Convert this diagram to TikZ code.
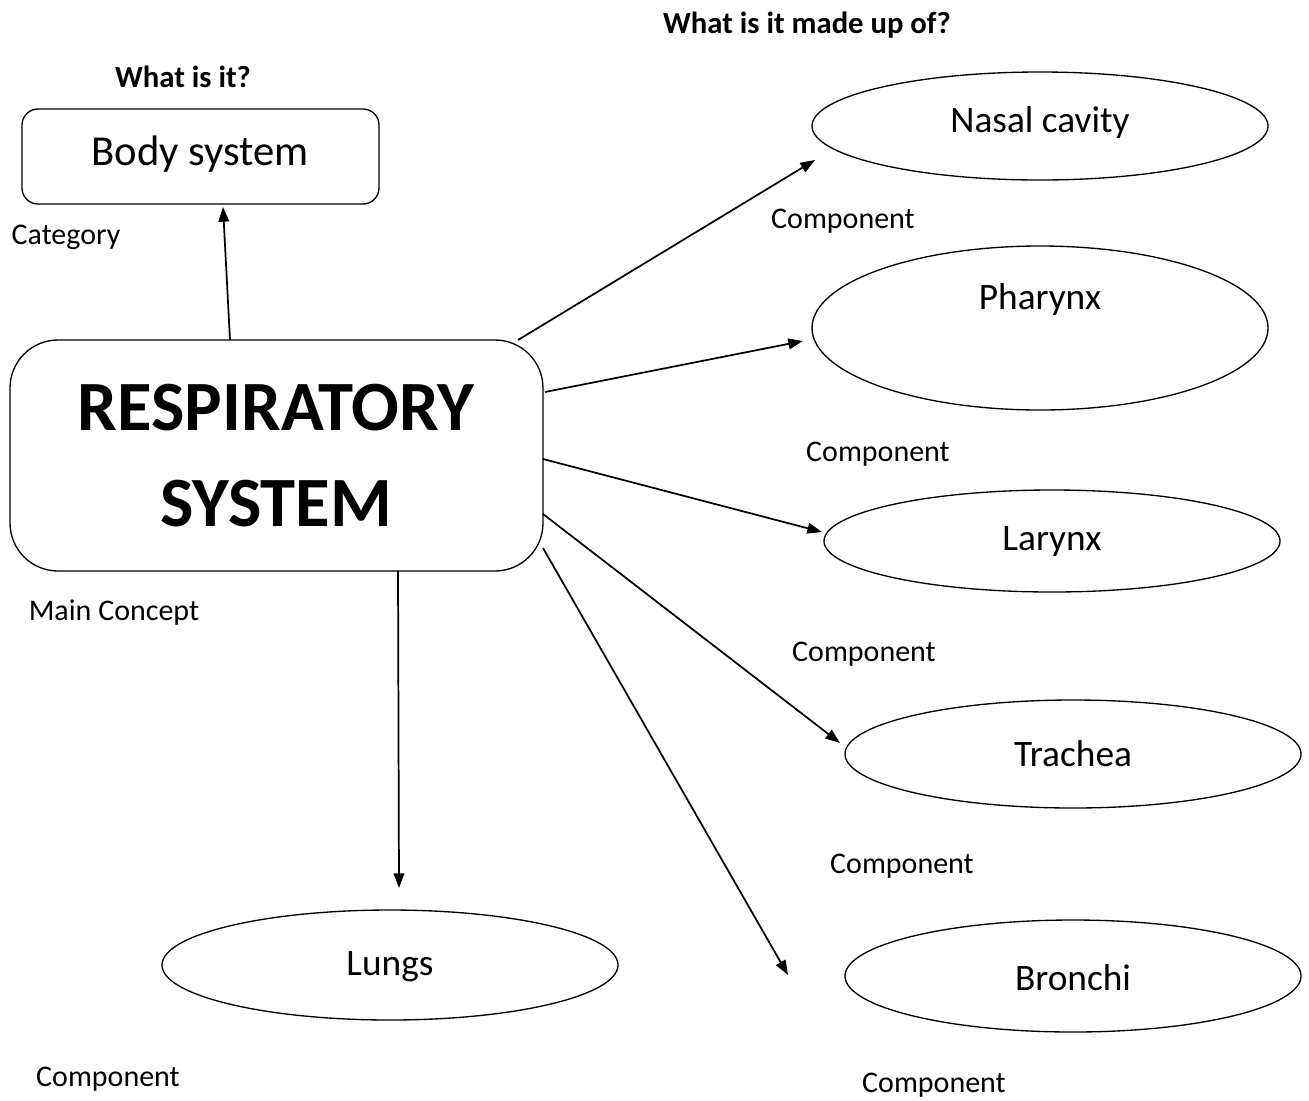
\documentclass[tikz,border=0pt]{standalone}
\usepackage{fontspec}
\setmainfont{Carlito}
\usetikzlibrary{shapes.geometric,arrows.meta}
\begin{document}
\begin{tikzpicture}[x=0.75pt,y=-0.75pt,
  arr/.style={draw,line width=1.3pt,-{Triangle[length=11pt,width=8pt]}},
  ell/.style={draw,line width=1pt,ellipse,inner sep=0pt},
  lbl/.style={font=\fontsize{22.5}{26}\selectfont},
  head/.style={font=\fontsize{23}{27}\selectfont\bfseries},
  etext/.style={font=\fontsize{28}{32}\selectfont}]
\useasboundingbox[fill=white] (0,0) rectangle (1309,1100);
% headers
\node[head] (h1) at (183,77) {What is it?};
\node[head] (h2) at (807,25) {What is it made up of?};
% body system
\node[draw,line width=1pt,rounded corners=12pt,minimum width=357*0.75pt,minimum height=95*0.75pt] (body) at (200.5,156.5) {};
\node[font=\fontsize{32}{36}\selectfont] (bodyt) at (200,154) {Body system};
\node[lbl] (cat) at (66,237) {Category};
% main concept
\node[draw,line width=1pt,rounded corners=36pt,minimum width=533*0.75pt,minimum height=231*0.75pt] (main) at (276.5,455.5) {};
\node[font=\fontsize{53}{72}\selectfont\bfseries,align=center] (maint) at (276,456) {RESPIRATORY\\SYSTEM};
\node[lbl] (mc) at (114,613) {Main Concept};
% ellipses
\node[ell,minimum width=456*0.75pt,minimum height=108*0.75pt] (nasal) at (1040,126) {};
\node[etext] at (1040,123) {Nasal cavity};
\node[ell,minimum width=456*0.75pt,minimum height=164*0.75pt] (phar) at (1040,328) {};
\node[etext] at (1040,300) {Pharynx};
\node[ell,minimum width=456*0.75pt,minimum height=102*0.75pt] (lar) at (1052,541) {};
\node[etext] at (1052,542) {Larynx};
\node[ell,minimum width=456*0.75pt,minimum height=108*0.75pt] (tra) at (1073,754) {};
\node[etext] at (1073,754) {Trachea};
\node[ell,minimum width=456*0.75pt,minimum height=112*0.75pt] (bron) at (1073,976) {};
\node[etext] at (1073,978) {Bronchi};
\node[ell,minimum width=456*0.75pt,minimum height=110*0.75pt] (lungs) at (390,965) {};
\node[etext] at (390,967) {Lungs};
% component labels
\node[lbl] (c1) at (843,221) {Component};
\node[lbl] (c2) at (878,454) {Component};
\node[lbl] (c3) at (864,654) {Component};
\node[lbl] (c4) at (902,866) {Component};
\node[lbl] (c5) at (934,1085) {Component};
\node[lbl] (c6) at (108,1079) {Component};
% arrow end coordinates
\coordinate (s0) at (230,340);
\coordinate (e0) at (223,207);
\coordinate (s1) at (518,340);
\coordinate (e1) at (815,160);
\coordinate (s2) at (545,392);
\coordinate (e2) at (803,341);
\coordinate (s3) at (543,459);
\coordinate (e3) at (822,532);
\coordinate (s4) at (543,514);
\coordinate (e4) at (840,743);
\coordinate (s5) at (543,548);
\coordinate (e5) at (788,975);
\coordinate (s6) at (398,571);
\coordinate (e6) at (399,888);
\draw[arr] (s0) -- (e0);
\draw[arr] (s1) -- (e1);
\draw[arr] (s2) -- (e2);
\draw[arr] (s3) -- (e3);
\draw[arr] (s4) -- (e4);
\draw[arr] (s5) -- (e5);
\draw[arr] (s6) -- (e6);
\end{tikzpicture}
\end{document}
